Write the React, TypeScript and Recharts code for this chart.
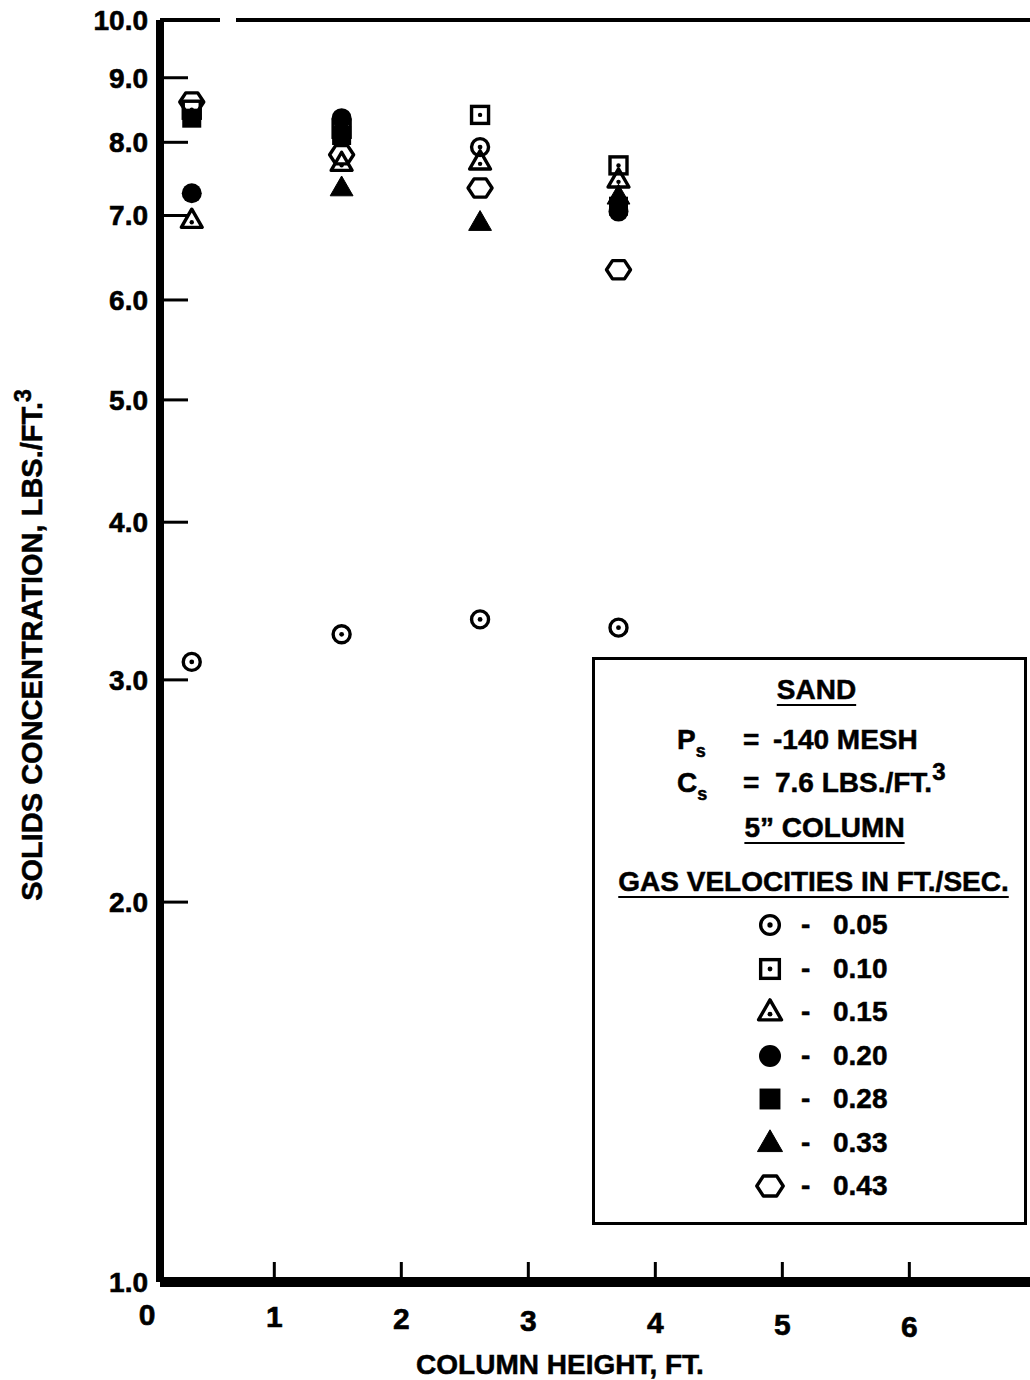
import React from 'react';
import { ScatterChart, Scatter, XAxis, YAxis, ReferenceLine, Legend } from 'recharts';

// column heights (ft) where samples were taken
const HEIGHTS = [0.35, 1.53, 2.62, 3.71];

// solids concentration (lbs/ft^3) per gas velocity, aligned with HEIGHTS
const C_005 = [3.1, 3.26, 3.35, 3.3];
const C_005_UPPER = [null, null, 7.93, null];
const C_010 = [8.49, 8.2, 8.41, 7.67];
const C_015 = [6.94, 7.7, 7.72, 7.47];
const C_020 = [7.29, 8.36, null, 7.05];
const C_028 = [8.36, 8.1, null, 7.12];
const C_033 = [null, 7.36, 6.91, 7.25];
const C_043 = [8.61, 7.82, 7.36, 6.34];

const VELOCITIES = ['0.05', '0.10', '0.15', '0.20', '0.28', '0.33', '0.43'];
const MARKERS = ['circleDot', 'squareDot', 'triangleDot', 'circle', 'square', 'triangle', 'hexagon'];

const X_TICKS = [0.1, 1, 2, 3, 4, 5, 6];
const Y_TICKS = [1, 2, 3, 4, 5, 6, 7, 8, 9, 10];

const FONT = '"Liberation Sans", Arial, Helvetica, sans-serif';

const toPoints = (...lists: (number | null)[][]) =>
  lists.flatMap((list) =>
    list.map((y, i) => (y == null ? null : { x: HEIGHTS[i], y })).filter(Boolean)
  );

const SERIES = [
  toPoints(C_005, C_005_UPPER),
  toPoints(C_010),
  toPoints(C_015),
  toPoints(C_020),
  toPoints(C_028),
  toPoints(C_033),
  toPoints(C_043),
];

const Marker = ({ kind, cx, cy, s = 1 }: { kind: string; cx: number; cy: number; s?: number }) => {
  const sw = 3.4;
  switch (kind) {
    case 'circleDot':
      return (
        <g>
          <circle cx={cx} cy={cy} r={8.5 * s} fill="none" stroke="#000" strokeWidth={sw} />
          <circle cx={cx} cy={cy} r={2.4 * s} fill="#000" />
        </g>
      );
    case 'squareDot': {
      const h = 8.5 * s;
      return (
        <g>
          <rect x={cx - h} y={cy - h} width={2 * h} height={2 * h} fill="none" stroke="#000" strokeWidth={sw} />
          <circle cx={cx} cy={cy} r={2.2 * s} fill="#000" />
        </g>
      );
    }
    case 'triangleDot': {
      const r = 11 * s;
      const pts = `${cx},${cy - r} ${cx + r * 0.95},${cy + r * 0.65} ${cx - r * 0.95},${cy + r * 0.65}`;
      return (
        <g>
          <polygon points={pts} fill="none" stroke="#000" strokeWidth={sw} strokeLinejoin="round" />
          <circle cx={cx} cy={cy + 2 * s} r={2.2 * s} fill="#000" />
        </g>
      );
    }
    case 'circle':
      return <circle cx={cx} cy={cy} r={10 * s} fill="#000" />;
    case 'square': {
      const h = 9.5 * s;
      return <rect x={cx - h} y={cy - h} width={2 * h} height={2 * h} fill="#000" />;
    }
    case 'triangle': {
      const r = 12 * s;
      const pts = `${cx},${cy - r} ${cx + r * 0.95},${cy + r * 0.65} ${cx - r * 0.95},${cy + r * 0.65}`;
      return <polygon points={pts} fill="#000" stroke="#000" strokeWidth={1} strokeLinejoin="round" />;
    }
    case 'hexagon': {
      const r = 12 * s;
      const pts = [0, 60, 120, 180, 240, 300]
        .map((a) => {
          const t = (a * Math.PI) / 180;
          return `${cx + r * Math.cos(t)},${cy + r * 0.88 * Math.sin(t)}`;
        })
        .join(' ');
      return <polygon points={pts} fill="none" stroke="#000" strokeWidth={sw} strokeLinejoin="round" />;
    }
    default:
      return null;
  }
};

const YTick = (props: any) => {
  const { x, y, payload } = props;
  const v = payload.value;
  const inner = v > 1 && v < 10;
  return (
    <g>
      {inner && <line x1={x + 3} y1={y} x2={x + 28} y2={y} stroke="#000" strokeWidth={3} />}
      <text
        x={x - 12}
        y={y + 10}
        textAnchor="end"
        fontSize={28}
        fontWeight="bold"
        fontFamily={FONT}
        fill="#000"
        stroke="#000"
        strokeWidth={0.6}
      >
        {v.toFixed(1)}
      </text>
    </g>
  );
};

const XTick = (props: any) => {
  const { x, y, payload } = props;
  const v = payload.value;
  const zero = v < 0.5;
  return (
    <g>
      {!zero && <line x1={x} y1={y - 4} x2={x} y2={y - 20} stroke="#000" strokeWidth={3} />}
      <text
        x={zero ? x - 13 : x}
        y={y + 43 + (zero ? 0 : v) * 2}
        textAnchor="middle"
        fontSize={30}
        fontWeight="bold"
        fontFamily={FONT}
        fill="#000"
        stroke="#000"
        strokeWidth={0.6}
      >
        {zero ? '0' : v}
      </text>
    </g>
  );
};

const line = (top: number, extra: React.CSSProperties = {}): React.CSSProperties => ({
  position: 'absolute',
  top: top - 16,
  lineHeight: '32px',
  whiteSpace: 'nowrap',
  ...extra,
});

const underline: React.CSSProperties = {
  textDecoration: 'underline',
  textDecorationThickness: 2,
  textUnderlineOffset: 5,
};

const LegendBox = () => (
  <div
    style={{
      position: 'relative',
      boxSizing: 'border-box',
      width: 435,
      height: 568,
      border: '3px solid #000',
      background: '#fff',
      fontFamily: FONT,
      fontWeight: 'bold',
      fontSize: 28,
      color: '#000',
      WebkitTextStroke: '0.5px #000',
    }}
  >
    <div style={line(30, { left: 0, width: 429, textAlign: 'center', paddingLeft: 14, boxSizing: 'border-box' })}>
      <span style={underline}>SAND</span>
    </div>
    <div style={line(80, { left: 82 })}>
      P<span style={{ fontSize: 18, position: 'relative', top: 8 }}>s</span>
    </div>
    <div style={line(80, { left: 148 })}>=</div>
    <div style={line(80, { left: 178 })}>-140 MESH</div>
    <div style={line(123, { left: 82 })}>
      C<span style={{ fontSize: 18, position: 'relative', top: 8 }}>s</span>
    </div>
    <div style={line(123, { left: 148 })}>=</div>
    <div style={line(123, { left: 180 })}>
      7.6 LBS./FT.<span style={{ fontSize: 24, position: 'relative', top: -12 }}>3</span>
    </div>
    <div style={line(168, { left: 0, width: 429, textAlign: 'center', paddingLeft: 30, boxSizing: 'border-box' })}>
      <span style={underline}>5” COLUMN</span>
    </div>
    <div style={line(222, { left: 0, width: 429, textAlign: 'center', paddingLeft: 8, boxSizing: 'border-box' })}>
      <span style={underline}>GAS VELOCITIES IN FT./SEC.</span>
    </div>
    {VELOCITIES.map((v, i) => {
      const cy = 265 + i * 43.5;
      return (
        <React.Fragment key={v}>
          <svg style={{ position: 'absolute', left: 158, top: cy - 16 }} width={34} height={32}>
            <Marker kind={MARKERS[i]} cx={17} cy={16} s={1.1} />
          </svg>
          <div style={line(cy, { left: 206 })}>-</div>
          <div style={line(cy, { left: 238 })}>{v}</div>
        </React.Fragment>
      );
    })}
  </div>
);

const YLabel = () => (
  <text
    x={42}
    y={645}
    transform="rotate(-90, 42, 645)"
    textAnchor="middle"
    fontSize={29}
    fontWeight="bold"
    fontFamily={FONT}
    fill="#000"
    stroke="#000"
    strokeWidth={0.5}
  >
    SOLIDS CONCENTRATION, LBS./FT.
    <tspan dy={-11} fontSize={23}>3</tspan>
  </text>
);

export default function App() {
  return (
    <div style={{ position: 'absolute', left: 0, top: 0, width: 1030, height: 1380, background: '#fff', overflow: 'hidden' }}>
      <ScatterChart width={1030} height={1380} margin={{ top: 20, right: 0, bottom: 8, left: 0 }}>
        <XAxis
          type="number"
          dataKey="x"
          domain={[0.1, 6.95]}
          ticks={X_TICKS}
          allowDataOverflow
          height={90}
          tickSize={0}
          tickMargin={0}
          tickLine={false}
          tick={<XTick />}
          axisLine={{ stroke: '#000', strokeWidth: 10 }}
          label={{
            value: 'COLUMN HEIGHT, FT.',
            position: 'insideBottom',
            offset: -2,
            dx: -35,
            fontSize: 28,
            fontWeight: 'bold',
            fontFamily: FONT,
            fill: '#000',
            stroke: '#000',
            strokeWidth: 0.5,
          }}
        />
        <YAxis
          type="number"
          dataKey="y"
          scale="log"
          domain={[1, 10]}
          ticks={Y_TICKS}
          allowDataOverflow
          width={160}
          tickSize={0}
          tickMargin={0}
          tickLine={false}
          tick={<YTick />}
          axisLine={{ stroke: '#000', strokeWidth: 8 }}
          label={{ content: () => <YLabel /> }}
        />
        <ReferenceLine y={10} stroke="#000" strokeWidth={4} strokeDasharray="60 16 3000" />
        {SERIES.map((pts, i) => (
          <Scatter
            key={VELOCITIES[i]}
            name={VELOCITIES[i]}
            data={pts}
            isAnimationActive={false}
            shape={(p: any) => <Marker kind={MARKERS[i]} cx={p.cx} cy={p.cy} />}
          />
        ))}
        <Legend
          layout="vertical"
          align="center"
          verticalAlign="middle"
          content={() => <LegendBox />}
          wrapperStyle={{ left: 592, top: 657, width: 435, height: 568 }}
        />
      </ScatterChart>
    </div>
  );
}
